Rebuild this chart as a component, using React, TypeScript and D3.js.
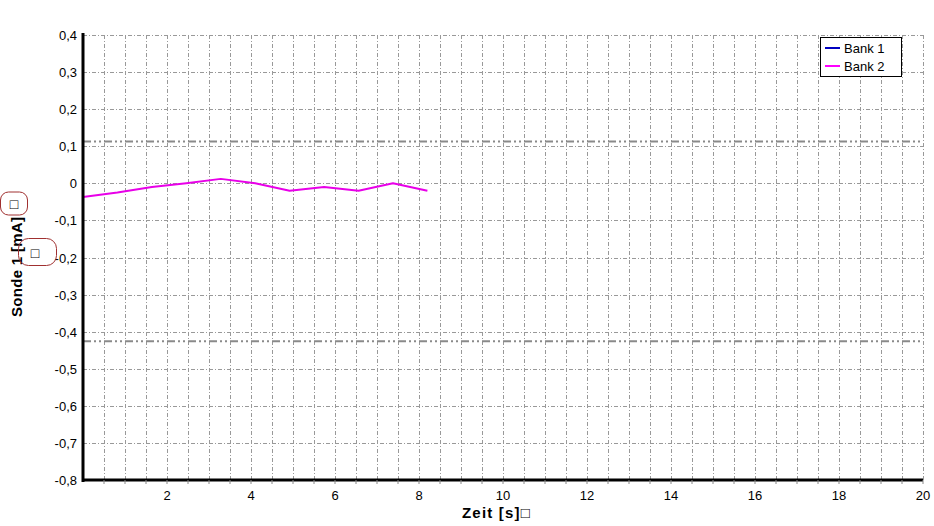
import React from "react";
import * as d3 from "d3";

const bank2Time = [0, 0.82, 1.64, 2.46, 3.28, 4.1, 4.92, 5.74, 6.56, 7.38, 8.2];
const bank2Values = [-0.037, -0.025, -0.01, 0.0, 0.012, 0.0, -0.02, -0.01, -0.02, 0.0, -0.02];
const bank1Time: number[] = [];
const bank1Values: number[] = [];
const limitValues = [0.113, -0.426];
const yTicks = [0.4, 0.3, 0.2, 0.1, 0, -0.1, -0.2, -0.3, -0.4, -0.5, -0.6, -0.7, -0.8];
const xTicks = [2, 4, 6, 8, 10, 12, 14, 16, 18, 20];
const legendNames = ["Bank 1", "Bank 2"];
const legendColors = ["#0000c0", "#ff00ff"];

export default function App() {
  const W = 934, H = 526;
  const left = 83, right = 923, top = 35, bottom = 480;
  const x = d3.scaleLinear().domain([0, 20]).range([left, right]);
  const y = d3.scaleLinear().domain([-0.8, 0.4]).range([bottom, top]);
  const fmt = (v: number) => (Math.abs(v) < 1e-9 ? "0" : d3.format(".1f")(v).replace(".", ",").replace("−", "-"));
  const vGrid = d3.range(0.5, 20.01, 0.5);
  const line = d3.line<number>().x((_, i) => x(bank2Time[i])).y((d) => y(d));
  const line1 = d3.line<number>().x((_, i) => x(bank1Time[i])).y((d) => y(d));
  const font = "'Liberation Sans', Arial, sans-serif";
  return (
    <svg width={W} height={H} style={{ position: "absolute", left: 0, top: 0, background: "#fff" }} fontFamily={font}>
      {vGrid.map((t) => (
        <line key={"vg" + t} x1={Math.round(x(t)) + 0.5} x2={Math.round(x(t)) + 0.5} y1={top} y2={bottom} stroke="#999" strokeWidth={1} strokeDasharray="4,2,1,2" />
      ))}
      {yTicks.map((v) => (
        <line key={"hg" + v} x1={left} x2={right} y1={Math.round(y(v)) + 0.5} y2={Math.round(y(v)) + 0.5} stroke="#999" strokeWidth={1} strokeDasharray="4,2,1,2" />
      ))}
      {limitValues.map((v) => (
        <line key={"lim" + v} x1={left} x2={right} y1={y(v)} y2={y(v)} stroke="#8a8a8a" strokeWidth={2} strokeDasharray="8,3,2,3,2,3" />
      ))}
      {bank1Values.length > 1 && <path d={line1(bank1Values) || ""} fill="none" stroke={legendColors[0]} strokeWidth={2} />}
      <path d={line(bank2Values) || ""} fill="none" stroke="#e800e8" strokeWidth={2} strokeLinejoin="round" />
      <line x1={left} x2={left} y1={top - 2} y2={bottom + 2} stroke="#000" strokeWidth={3} />
      <line x1={left - 1} x2={right} y1={bottom} y2={bottom} stroke="#000" strokeWidth={3} />
      {vGrid.map((t) => (
        <line key={"xt" + t} x1={x(t)} x2={x(t)} y1={bottom} y2={bottom + 4} stroke="#888" strokeWidth={1} />
      ))}
      {yTicks.map((v) => (
        <text key={"yl" + v} x={left - 6} y={y(v) + 5} textAnchor="end" fontSize={13} fill="#000">
          {fmt(v)}
        </text>
      ))}
      {xTicks.map((t) => (
        <text key={"xl" + t} x={x(t)} y={500} textAnchor="middle" fontSize={13} fill="#000">
          {t}
        </text>
      ))}
      <text x={462} y={518} textAnchor="start" fontSize={15} fontWeight="bold" letterSpacing={1.2} fill="#000">
        Zeit [s]□
      </text>
      <text transform="translate(22,317) rotate(-90)" textAnchor="start" fontSize={15} fontWeight="bold" letterSpacing={0.3} fill="#000">
        Sonde 1 [mA]
      </text>
      <rect x={0.5} y={192} width={27} height={23} rx={8} fill="none" stroke="#a03030" strokeWidth={1} />
      <text x={14} y={209} textAnchor="middle" fontSize={14} fill="#000">□</text>
      <rect x={18.5} y={238.5} width={38} height={27} rx={10} fill="none" stroke="#a03030" strokeWidth={1} />
      <text x={35} y={258} textAnchor="middle" fontSize={14} fill="#000">□</text>
      <rect x={820.5} y={37.5} width={81} height={39} fill="#fff" stroke="#000" strokeWidth={1} />
      {legendNames.map((n, i) => (
        <g key={n}>
          <line x1={825} x2={840} y1={48 + i * 18} y2={48 + i * 18} stroke={legendColors[i]} strokeWidth={2} />
          <text x={844} y={52.5 + i * 18} fontSize={13} fill="#000">{n}</text>
        </g>
      ))}
    </svg>
  );
}
